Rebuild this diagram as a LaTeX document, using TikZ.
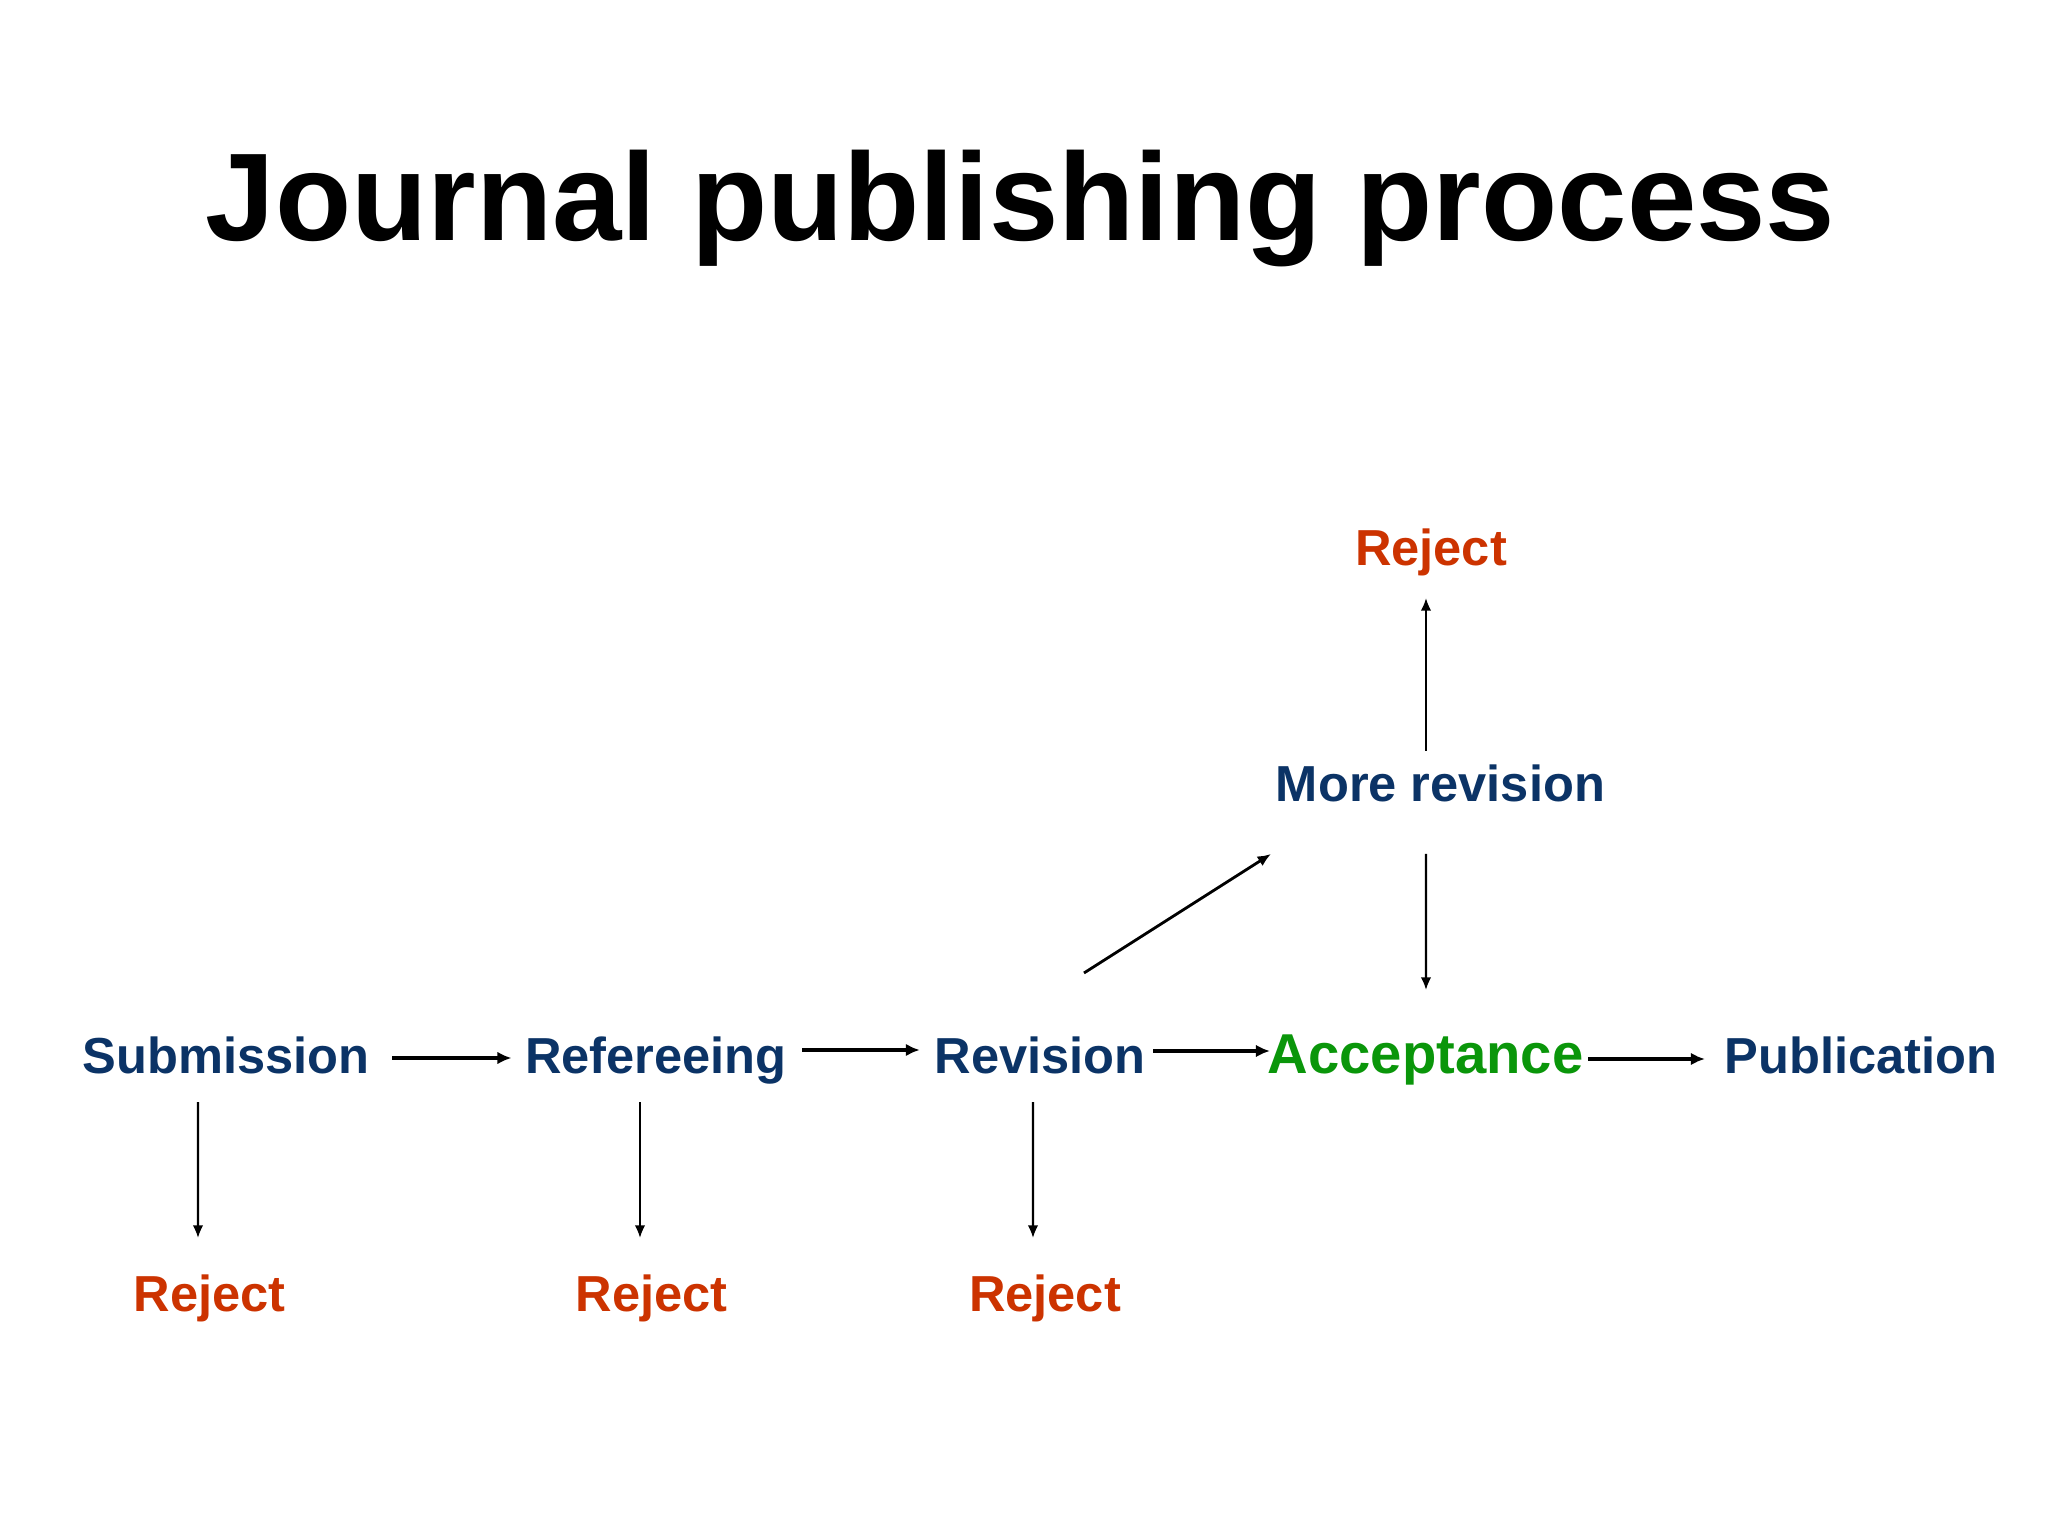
\documentclass[tikz,border=0pt]{standalone}
\usepackage{fontspec}
\setmainfont{Liberation Sans}
\usetikzlibrary{arrows.meta,calc}
\definecolor{navy}{HTML}{0B3366}
\definecolor{rejred}{HTML}{CC3300}
\definecolor{accgreen}{HTML}{0A960A}
\begin{document}
\begin{tikzpicture}[x=1cm,y=1cm,
  lbl/.style={inner sep=0pt, anchor=base, font=\fontsize{14.4}{17}\selectfont\bfseries, text=navy},
  rejlbl/.style={lbl, text=rejred},
  acclbl/.style={lbl, font=\fontsize{16}{19}\selectfont\bfseries, text=accgreen},
  harr/.style={-{Latex[length=4pt,width=3.6pt]}, line width=0.9pt},
  varr/.style={-{Latex[length=3.6pt,width=3pt]}, line width=0.6pt},
  darr/.style={-{Latex[length=3.8pt,width=3.2pt]}, line width=0.8pt}]
\useasboundingbox (0,0) rectangle (20.48,-15.36);
\fill[white] (0,0) rectangle (20.48,-15.36);
\node[inner sep=0pt, anchor=base, font=\fontsize{35.5}{40}\selectfont\bfseries] (title) at (10.205,-2.41) {Journal publishing process};

\node[lbl] (sub) at (2.26,-10.73) {Submission};
\node[lbl] (ref) at (6.56,-10.73) {Refereeing};
\node[lbl] (rev) at (10.40,-10.73) {Revision};
\node[acclbl] (acc) at (14.255,-10.73) {Acceptance};
\node[lbl] (pub) at (18.61,-10.73) {Publication};
\node[lbl] (more) at (14.405,-8.01) {More revision};
\node[rejlbl] (rejt) at (14.31,-5.66) {Reject};
\node[rejlbl] (rej1) at (2.095,-13.11) {Reject};
\node[rejlbl] (rej2) at (6.515,-13.11) {Reject};
\node[rejlbl] (rej3) at (10.45,-13.11) {Reject};

\draw[harr] ($(sub.base east)+(0.22,0.15)$) -- ($(ref.base west)+(-0.13,0.15)$);
\draw[harr] ($(ref.base east)+(0.15,0.23)$) -- ($(rev.base west)+(-0.14,0.23)$);
\draw[harr] ($(rev.base east)+(0.07,0.22)$) -- ($(acc.base west)+(0.03,0.22)$);
\draw[harr] ($(acc.base east)+(0.04,0.14)$) -- ($(pub.base west)+(-0.19,0.14)$);

\draw[varr] ($(sub.base)+(-0.28,-0.29)$) -- ($(rej1.base)+(-0.115,0.73)$);
\draw[varr] ($(ref.base)+(-0.16,-0.29)$) -- ($(rej2.base)+(-0.115,0.73)$);
\draw[varr] ($(rev.base)+(-0.07,-0.29)$) -- ($(rej3.base)+(-0.12,0.73)$);

\draw[darr] ($(rev.base)+(0.44,1.00)$) -- ($(more.base)+(-1.695,-0.53)$);
\draw[varr] ($(more.base)+(-0.145,-0.53)$) -- ($(acc.base)+(0.005,0.83)$);
\draw[varr] ($(more.base)+(-0.145,0.50)$) -- ($(rejt.base)+(-0.05,-0.32)$);
\end{tikzpicture}
\end{document}
